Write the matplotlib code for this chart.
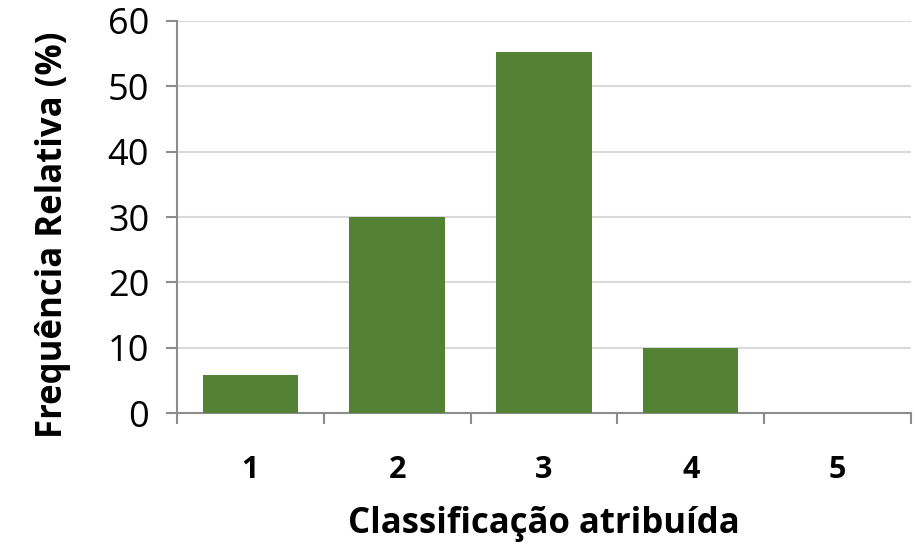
import numpy as np
import matplotlib.pyplot as plt
from matplotlib.ticker import FixedLocator

categories = ["1", "2", "3", "4", "5"]
values = [5.8, 30, 55.2, 10, 0]
yticks = [0, 10, 20, 30, 40, 50, 60]

BAR_COLOR = "#548235"
AXIS_COLOR = "#8c8c8c"
GRID_COLOR = "#d9d9d9"

plt.rcParams['font.family'] = ['Open Sans', 'DejaVu Sans']

fig = plt.figure(figsize=(9.16, 5.44), dpi=100)
ax = fig.add_axes([0.1932, 0.2408, 0.8013, 0.7206])

x = np.arange(len(categories))
ax.bar(x, values, width=0.65, color=BAR_COLOR, zorder=3)

ax.set_xlim(-0.5, len(categories) - 0.5)
ax.set_ylim(0, 60)
ax.set_yticks(yticks)
ax.yaxis.grid(True, color=GRID_COLOR, linewidth=1.5, zorder=0)

ax.set_xticks(x)
ax.set_xticklabels(categories, fontsize=22, fontweight='bold')
ax.xaxis.set_minor_locator(FixedLocator(np.arange(-0.5, len(categories), 1.0)))
ax.tick_params(axis='x', which='major', length=0, pad=30)
ax.tick_params(axis='x', which='minor', length=8, width=1.5, color=AXIS_COLOR, direction='out')
ax.tick_params(axis='y', which='major', length=8, width=1.5, color=AXIS_COLOR, labelsize=26, pad=12)

for side in ['top', 'right']:
    ax.spines[side].set_visible(False)
for side in ['left', 'bottom']:
    ax.spines[side].set_color(AXIS_COLOR)
    ax.spines[side].set_linewidth(1.5)

ax.set_xlabel("Classificação atribuída", fontsize=25, fontweight='bold', labelpad=15)
ax.set_ylabel("Frequência Relativa (%)", fontsize=25, fontweight='bold')
ax.yaxis.set_label_coords(-0.145, 0.454)

fig.savefig("out.png", dpi=100)
